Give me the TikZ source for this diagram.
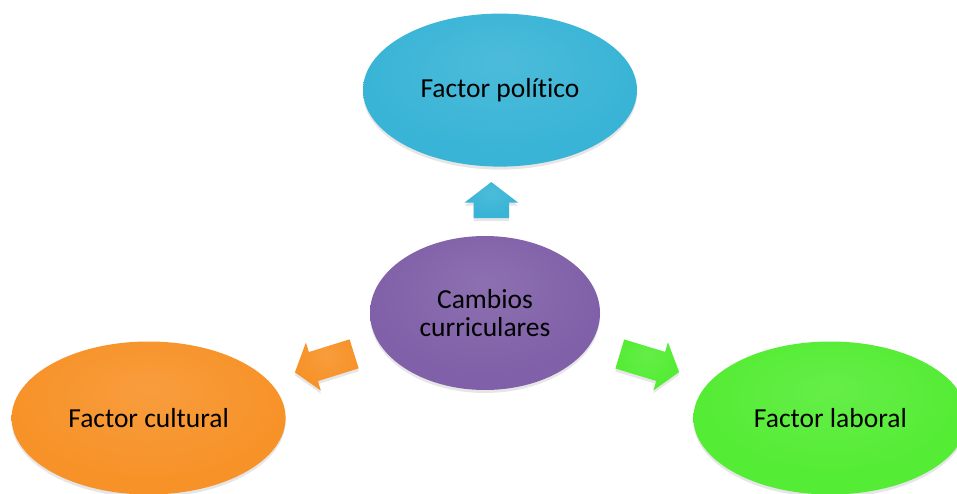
\documentclass[tikz,border=0pt]{standalone}
\usepackage{fontspec}
\setmainfont{Carlito}[Ligatures={NoCommon}]
\usetikzlibrary{positioning, calc, shapes.geometric, shapes.arrows, shadows}

\definecolor{politico}{RGB}{57,180,214}
\definecolor{cambios}{RGB}{128,96,168}
\definecolor{cultural}{RGB}{247,146,40}
\definecolor{laboral}{RGB}{84,236,52}

% glossy fill, colour taken from glosscol when used
\colorlet{glosscol}{white}
\pgfdeclareradialshading[glosscol]{gloss}{\pgfpoint{0bp}{10bp}}{%
  color(0bp)=(glosscol!90!white); color(25bp)=(glosscol);
  color(45bp)=(glosscol); color(50bp)=(glosscol!82!black)}
\tikzset{gloss/.style={shading=gloss, /utils/exec={\colorlet{glosscol}{#1}}}}

\begin{document}
\begin{tikzpicture}[x=1pt, y=1pt]
        % Define block styles
        \tikzstyle{factor} = [ellipse, minimum width=274pt, minimum height=153pt, inner sep=0pt, align=center, font=\fontsize{27.5}{28}\selectfont, drop shadow={opacity=0.2, shadow xshift=0pt, shadow yshift=-3pt}]
        \tikzstyle{blockarrow} = [single arrow, minimum height=62pt, inner xsep=0pt, inner ysep=15pt, single arrow head extend=10pt, single arrow tip angle=105, drop shadow={opacity=0.2, shadow xshift=0pt, shadow yshift=-3pt}]

        \useasboundingbox (0,0) rectangle (957,493);

        % Place nodes
        \node [factor, gloss=cambios, minimum width=230pt, minimum height=154pt] (cambios) at (485,180) {Cambios\\curriculares};
        \node [factor, gloss=politico, above=69pt of cambios, xshift=15pt] (politico) {Factor político};
        \node [factor, gloss=cultural, left=84pt of cambios, yshift=-105pt] (cultural) {Factor cultural};
        \node [factor, gloss=laboral, right=93pt of cambios, yshift=-105pt] (laboral) {Factor laboral};

        % Block arrows between the nodes
        \node [blockarrow, gloss=politico, rotate=90, minimum height=36pt, inner ysep=17.5pt, single arrow head extend=9pt] (toPolitico) at ($(cambios.north)!0.42!(politico.south)$) {};
        \path (cambios) -- node [blockarrow, gloss=cultural, sloped, allow upside down, pos=0.45] (toCultural) {} (cultural);
        \path (cambios) -- node [blockarrow, gloss=laboral, sloped, allow upside down, pos=0.45] (toLaboral) {} (laboral);
\end{tikzpicture}
\end{document}
